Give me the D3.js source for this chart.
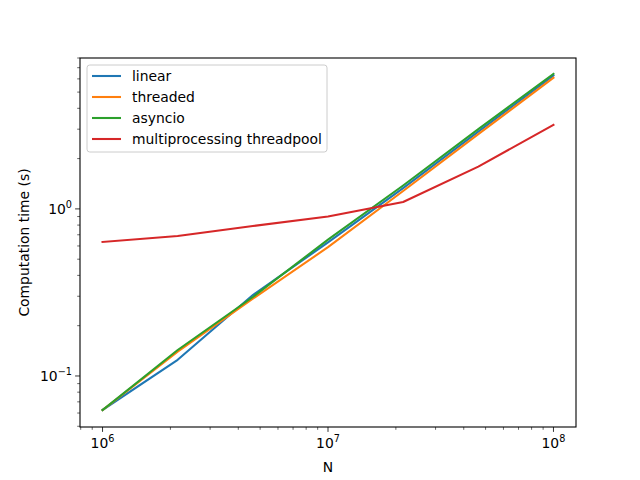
<!DOCTYPE html>
<html>
<head>
<meta charset="utf-8">
<script src="https://cdn.jsdelivr.net/npm/d3@7"></script>
<style>
  body { margin: 0; background: #fff; }
  svg { font-family: "DejaVu Sans", sans-serif; }
</style>
</head>
<body>
<svg id="chart" width="640" height="480"></svg>
<script>
// data
const sizes = [1e6, 2.154e6, 4.642e6, 1e7, 2.154e7, 4.642e7, 1e8];
const linear = [0.0626, 0.125, 0.305, 0.63, 1.33, 2.9, 6.28];
const threaded = [0.0626, 0.14, 0.29, 0.59, 1.28, 2.8, 6.1];
const asyncio = [0.0626, 0.143, 0.297, 0.655, 1.38, 3.0, 6.43];
const mpThreadpool = [0.634, 0.689, 0.79, 0.9, 1.10, 1.79, 3.18];
const seriesNames = ["linear", "threaded", "asyncio", "multiprocessing threadpool"];
const seriesColours = ["#1f77b4", "#ff7f0e", "#2ca02c", "#d62728"];
const xMajorTicks = [1e6, 1e7, 1e8];
const yMajorTicks = [0.1, 1];

const margin = { left: 80, right: 64, top: 58, bottom: 53 };
const width = 640, height = 480;
const contentsWidth = width - margin.left - margin.right;
const contentsHeight = height - margin.top - margin.bottom;

const svg = d3.select("#chart");
const g = svg.append("g").attr("transform", `translate(${margin.left},${margin.top})`);

// log scales with matplotlib-like 5% padding in log space
const xPad = (Math.log10(1e8) - Math.log10(1e6)) * 0.05;
const x = d3.scaleLog().domain([10 ** (6 - xPad), 10 ** (8 + xPad)]).range([0, contentsWidth]);
const y = d3.scaleLog().domain([0.0495, 8.0]).range([contentsHeight, 0]);

const data = [linear, threaded, asyncio, mpThreadpool].map((vals, i) => ({
    name: seriesNames[i],
    colour: seriesColours[i],
    values: vals.map((v, j) => ({ n: sizes[j], t: v }))
}));

// minor ticks
function minorTicks(scale) {
    const [a, b] = scale.domain();
    const out = [];
    for (let e = Math.floor(Math.log10(a)); e <= Math.ceil(Math.log10(b)); e++) {
        for (let k = 2; k <= 9; k++) {
            const v = k * 10 ** e;
            if (v >= a && v <= b) out.push(v);
        }
    }
    return out;
}

const supers = { "-": "\u207B", "0": "\u2070", "1": "\u00B9", "2": "\u00B2", "3": "\u00B3", "4": "\u2074", "5": "\u2075", "6": "\u2076", "7": "\u2077", "8": "\u2078", "9": "\u2079" };
function tickLabel(sel, v) {
    const e = Math.round(Math.log10(v));
    sel.append("tspan").text("10");
    sel.append("tspan").attr("dy", -6).attr("font-size", 9.7).text(String(e).replace("-", "\u2212"));
}

// x axis
const xAxisG = g.append("g").attr("transform", `translate(0,${contentsHeight})`);
xAxisG.selectAll("line.minor").data(minorTicks(x)).enter().append("line")
    .attr("x1", d => x(d)).attr("x2", d => x(d)).attr("y1", 0).attr("y2", 2.8)
    .attr("stroke", "#000").attr("stroke-width", 0.6);
xAxisG.selectAll("line.major").data(xMajorTicks).enter().append("line")
    .attr("x1", d => x(d)).attr("x2", d => x(d)).attr("y1", 0).attr("y2", 4.9)
    .attr("stroke", "#000").attr("stroke-width", 0.8);
xAxisG.selectAll("text.tick").data(xMajorTicks).enter().append("text")
    .attr("x", d => x(d)).attr("y", 21)
    .attr("text-anchor", "middle").attr("font-size", 13.9)
    .each(function (d) { tickLabel(d3.select(this), d); });

// y axis
const yAxisG = g.append("g");
yAxisG.selectAll("line.minor").data(minorTicks(y)).enter().append("line")
    .attr("x1", -2.8).attr("x2", 0).attr("y1", d => y(d)).attr("y2", d => y(d))
    .attr("stroke", "#000").attr("stroke-width", 0.6);
yAxisG.selectAll("line.major").data(yMajorTicks).enter().append("line")
    .attr("x1", -4.9).attr("x2", 0).attr("y1", d => y(d)).attr("y2", d => y(d))
    .attr("stroke", "#000").attr("stroke-width", 0.8);
yAxisG.selectAll("text.tick").data(yMajorTicks).enter().append("text")
    .attr("x", -8).attr("y", d => y(d) + 5)
    .attr("text-anchor", "end").attr("font-size", 13.9)
    .each(function (d) { tickLabel(d3.select(this), d); });

// lines
const line = d3.line().x(d => x(d.n)).y(d => y(d.t));
g.selectAll("path.series").data(data).enter().append("path")
    .attr("class", "series")
    .attr("d", d => line(d.values))
    .attr("fill", "none")
    .attr("stroke", d => d.colour)
    .attr("stroke-width", 2.08)
    .attr("stroke-linejoin", "round")
    .attr("stroke-linecap", "square");

// frame
g.append("rect")
    .attr("width", contentsWidth).attr("height", contentsHeight)
    .attr("fill", "none").attr("stroke", "#000").attr("stroke-width", 1.1);

// axis labels
svg.append("text")
    .attr("x", margin.left + contentsWidth / 2).attr("y", 472)
    .attr("text-anchor", "middle").attr("font-size", 13.9).text("N");
svg.append("text")
    .attr("transform", `translate(29,${margin.top + contentsHeight / 2}) rotate(-90)`)
    .attr("text-anchor", "middle").attr("font-size", 13.9).text("Computation time (s)");

// legend
const legendG = g.append("g").attr("transform", "translate(7,7)");
legendG.append("rect")
    .attr("width", 240).attr("height", 87).attr("rx", 2.8)
    .attr("fill", "#fff").attr("fill-opacity", 0.8)
    .attr("stroke", "#cccccc").attr("stroke-width", 1);
const items = legendG.selectAll("g.item").data(data).enter().append("g")
    .attr("transform", (d, i) => `translate(0,${11 + i * 21})`);
items.append("line")
    .attr("x1", 5).attr("x2", 34).attr("y1", 0).attr("y2", 0)
    .attr("stroke", d => d.colour).attr("stroke-width", 2.08);
items.append("text")
    .attr("x", 45).attr("y", 5).attr("font-size", 13.9).text(d => d.name);
</script>
</body>
</html>
